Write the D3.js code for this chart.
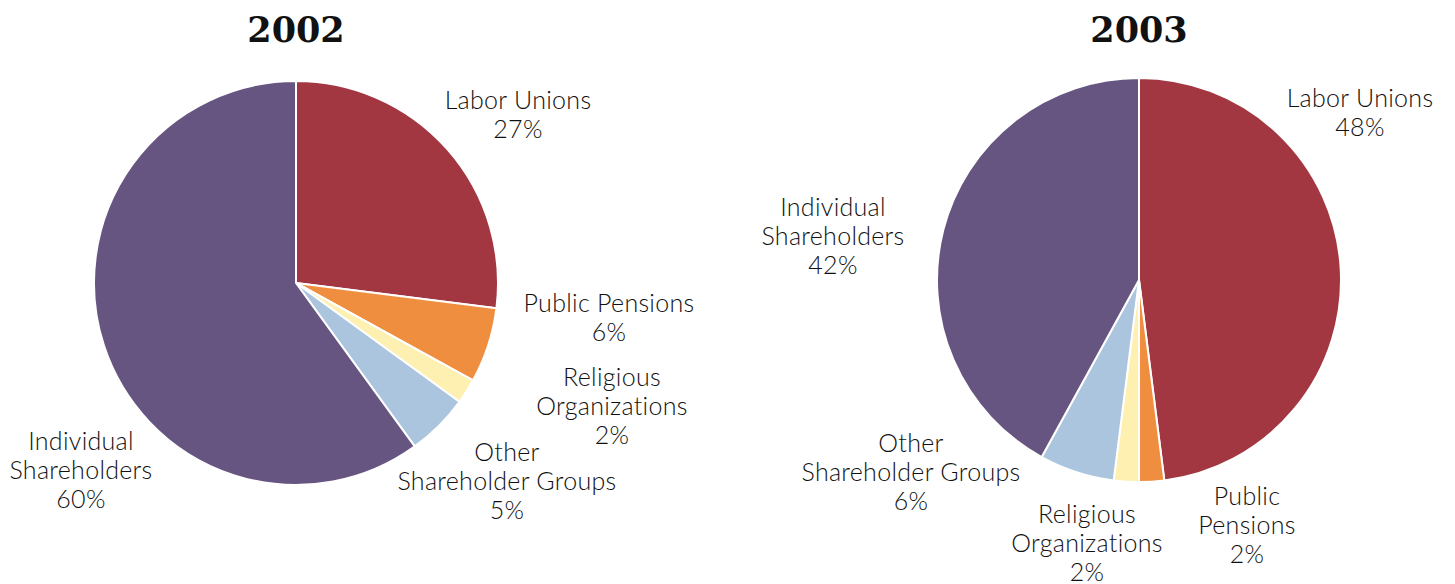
<!DOCTYPE html>
<html>
<head>
<meta charset="utf-8">
<script src="https://cdn.jsdelivr.net/npm/d3@7"></script>
<style>
  body { margin: 0; background: #fff; }
  text { fill: #111; }
</style>
</head>
<body>
<div id="chart"></div>
<script>
const categories = ["Labor Unions", "Public Pensions", "Religious Organizations", "Other Shareholder Groups", "Individual Shareholders"];
const years = ["2002", "2003"];
const values2002 = [27, 6, 2, 5, 60];
const values2003 = [48, 2, 2, 6, 42];

// how each label wraps, per chart
const lines2002 = [["Labor Unions"], ["Public Pensions"], ["Religious", "Organizations"], ["Other", "Shareholder Groups"], ["Individual", "Shareholders"]];
const lines2003 = [["Labor Unions"], ["Public", "Pensions"], ["Religious", "Organizations"], ["Other", "Shareholder Groups"], ["Individual", "Shareholders"]];

const colors = ["#a23641", "#ef8e3f", "#fef0b0", "#abc5df", "#675581"];

const width = 1455, height = 584;
const radius = 202;
const lineH = 29;

// layout: pie centres and label block centres (relative to pie centre)
const charts = [
  { year: years[0], values: values2002, lines: lines2002, cx: 296, cy: 283,
    labelPos: [[222, -168], [313, 35], [316, 123], [211, 198], [-215, 187]] },
  { year: years[1], values: values2003, lines: lines2003, cx: 1139, cy: 280,
    labelPos: [[221, -167], [108, 245], [-52, 263], [-228, 192], [-306, -44]] }
];

const color = d3.scaleOrdinal().domain(categories).range(colors);

const svg = d3.select("#chart").append("svg")
    .attr("width", width)
    .attr("height", height);

const pie = d3.pie().sort(null).value(d => d.value);
const arc = d3.arc().innerRadius(0).outerRadius(radius);

charts.forEach(c => {
  const rows = categories.map((name, i) => ({ name, value: c.values[i], lines: c.lines[i], pos: c.labelPos[i] }));

  const g = svg.append("g")
      .attr("transform", `translate(${c.cx},${c.cy})`);

  g.selectAll("path")
    .data(pie(rows))
    .enter().append("path")
      .attr("d", arc)
      .attr("fill", d => color(d.data.name))
      .attr("stroke", "#fff")
      .attr("stroke-width", 2)
      .attr("stroke-linejoin", "round");

  const label = g.selectAll(".label")
    .data(rows)
    .enter().append("text")
      .attr("class", "label")
      .attr("text-anchor", "middle")
      .style("font", "300 25px Lato, 'Open Sans', sans-serif")
      .style("letter-spacing", "0.3px");

  label.each(function(d) {
    const t = d3.select(this);
    const all = d.lines.concat([d.value + "%"]);
    const top = d.pos[1] - (all.length - 1) * lineH / 2;
    all.forEach((s, k) => {
      t.append("tspan")
        .attr("x", d.pos[0])
        .attr("y", top + k * lineH)
        .attr("dy", "0.35em")
        .text(s);
    });
  });

  svg.append("text")
    .attr("x", c.cx)
    .attr("y", 42)
    .attr("text-anchor", "middle")
    .style("font", "bold 35px 'DejaVu Serif', serif")
    .text(c.year);
});
</script>
</body>
</html>
